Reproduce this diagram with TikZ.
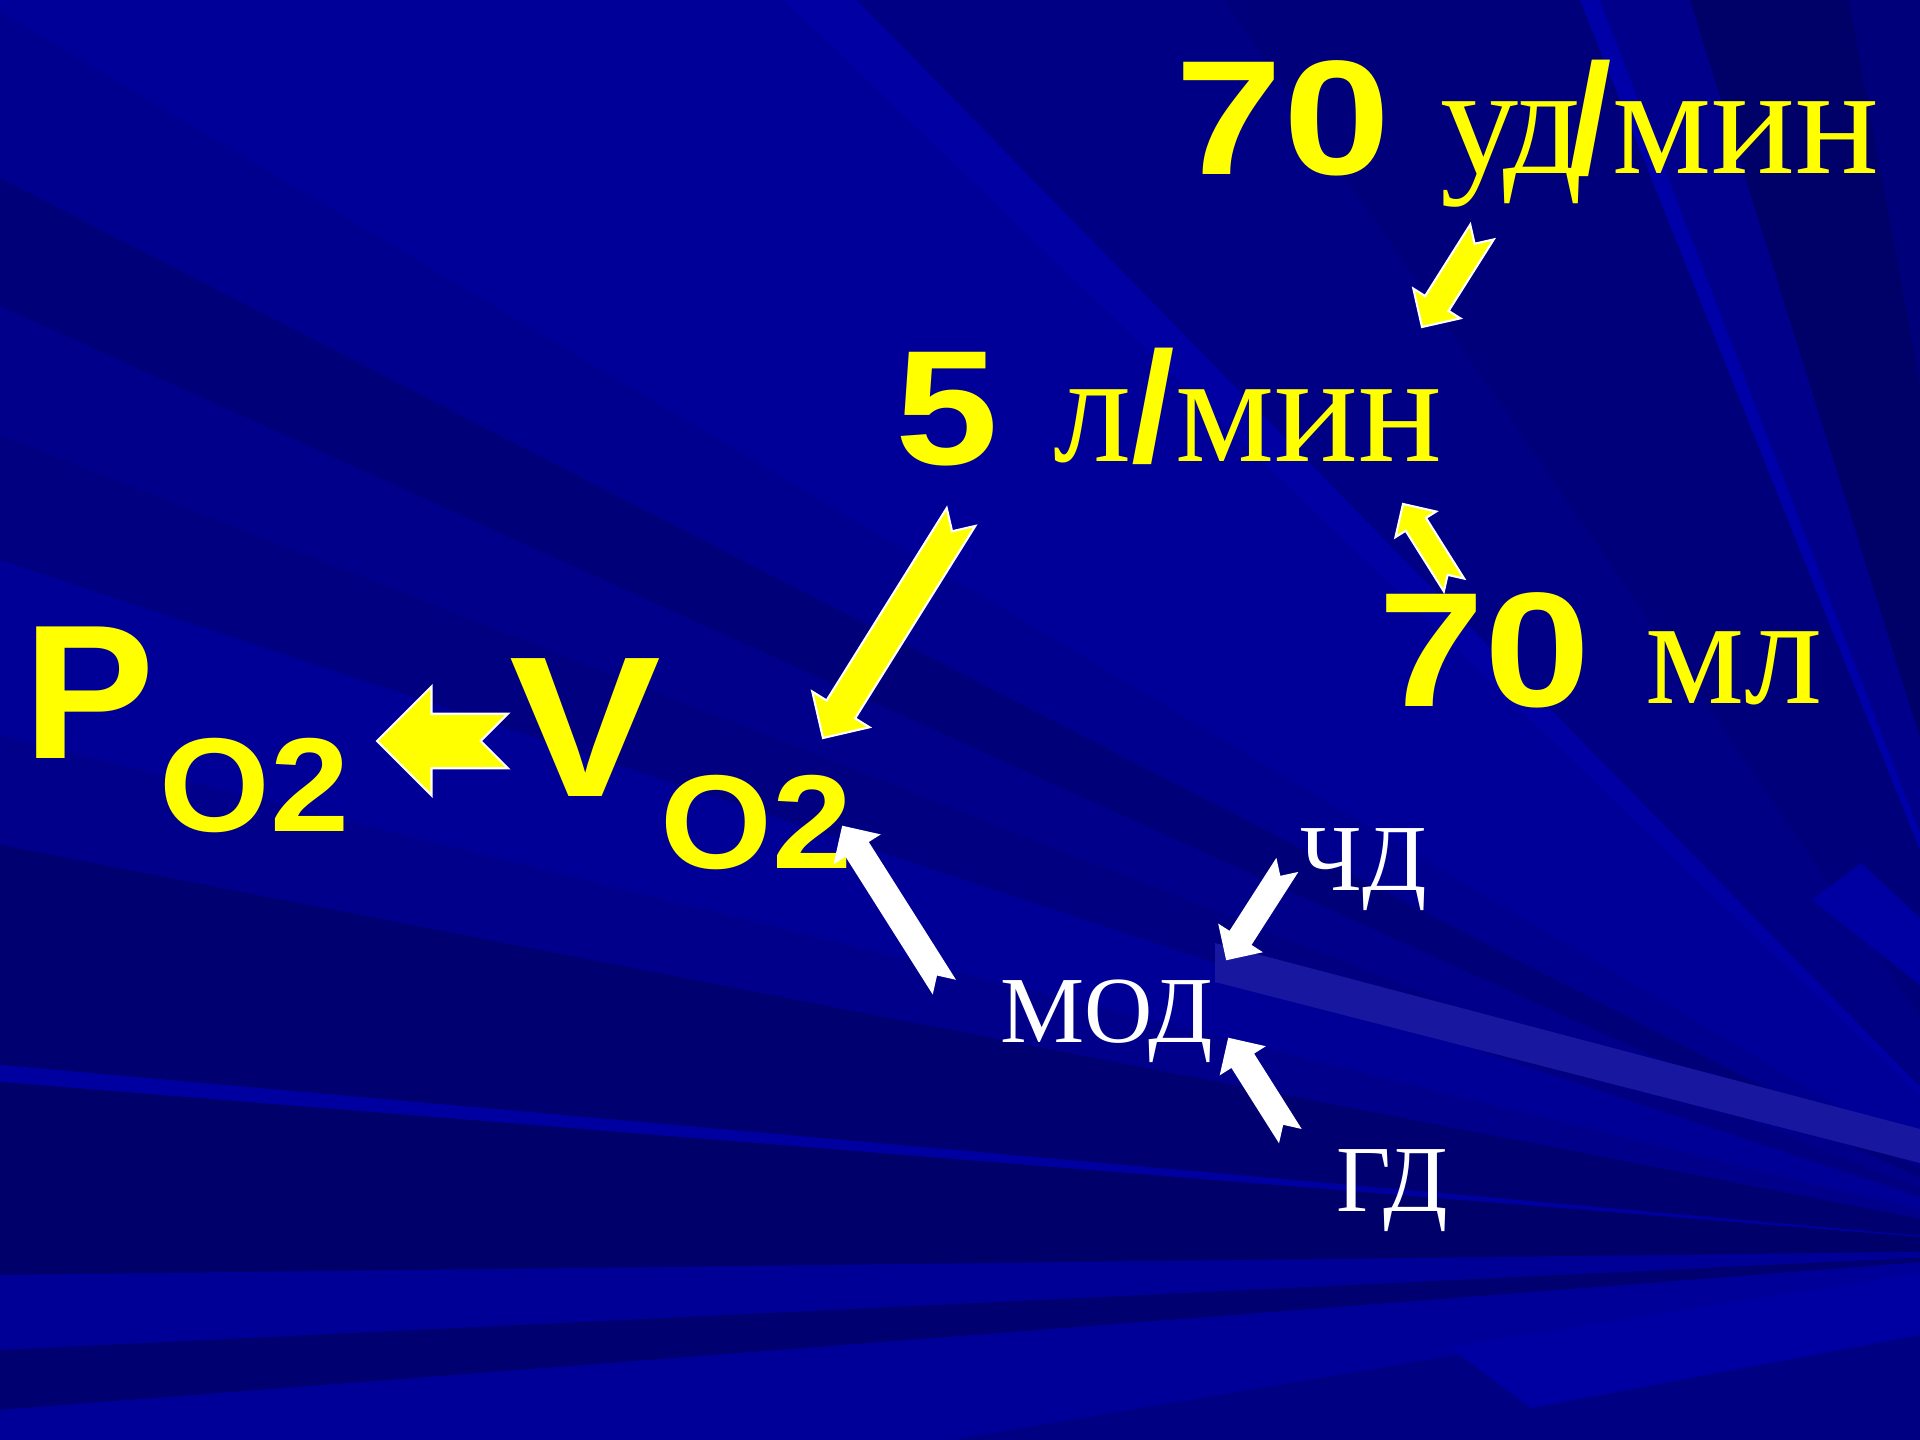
\documentclass[tikz,border=0pt]{standalone}
\usepackage{fontspec}
\setmainfont{Liberation Serif}
\newfontfamily\headfont{Liberation Sans}
\usepackage{tikz}
\usetikzlibrary{calc}
\definecolor{slideYellow}{HTML}{FFFF00}
\definecolor{slideGlow}{HTML}{17179F}
\definecolor{slideLight}{HTML}{0000A2}

% notched block arrow: fill, tail, tip, head half-width
\newcommand{\notcharrow}[4]{%
  \coordinate (hb) at ($(#3)!#4!(#2)$);
  \filldraw[fill=#1, draw=white, line width=0.6pt, line join=miter]
    ($(#2)!#4/2!90:(#3)$) -- ($(#2)!#4/2!(#3)$) -- ($(#2)!#4/2!-90:(#3)$)
    -- ($(hb)!#4/2!90:(#2)$) -- ($(hb)!#4!90:(#2)$) -- (#3)
    -- ($(hb)!#4!-90:(#2)$) -- ($(hb)!#4/2!-90:(#2)$) -- cycle;
}

\begin{document}
\begin{tikzpicture}[x=0.01cm, y=-0.01cm,
  num/.style={text=slideYellow, inner sep=0pt, anchor=base west,
             transform shape, xscale=1.17,
             font=\headfont\bfseries\fontsize{46.4}{50}\selectfont},
  unit/.style={text=slideYellow, inner sep=0pt, anchor=base west,
             font=\fontsize{44.5}{50}\selectfont},
  big/.style={num, font=\headfont\bfseries\fontsize{54.4}{60}\selectfont},
  sub/.style={num, font=\headfont\bfseries\fontsize{38}{42}\selectfont},
  resp/.style={text=white, inner sep=0pt, anchor=base west,
             font=\fontsize{26.9}{30}\selectfont},
]
\useasboundingbox (0,0) rectangle (1920,1440);

% Background rays
\begin{scope}
\clip (0,0) rectangle (1920,1440);
\fill[blue!51!black] (0,0) rectangle (1920,1440);
\coordinate (F) at (2080,1250);
\foreach \ya/\yb/\p in {-100/12/60, 12/178/56, 178/306/47, 306/435/54,
    435/560/50, 560/735/59, 735/845/54, 845/1065/44, 1065/1082/63,
    1082/1275/42, 1275/1350/59, 1350/1410/44, 1410/1600/60}
  \fill[blue!\p!black] (F) -- (0,\ya) -- (0,\yb) -- cycle;
\foreach \xa/\xb/\p in {0/784/60, 784/857/64, 857/1224/52, 1224/1580/48,
    1580/1600/66, 1600/1690/54, 1690/1849/41, 1849/2200/48}
  \fill[blue!\p!black] (F) -- (\xa,0) -- (\xb,0) -- cycle;
\fill[slideGlow] (1215,943) -- (1920,1129) -- (1920,1163) -- (1215,982) -- cycle;
\fill[slideLight] (1812,900) -- (1861,863) -- (1920,918) -- (1920,985) -- cycle;
\fill[slideLight] (1449,1347) -- (1920,1273) -- (1920,1335) -- (1531,1408) -- cycle;
\end{scope}

% Arrow hidden under the stroke volume
\coordinate (sv-tail) at (1454,585);
\coordinate (sv-tip) at (1403,504);
\notcharrow{slideYellow}{sv-tail}{sv-tip}{2.4mm}

% Yellow values
\node[num, xscale=1.01] (hr) at (1175,175) {70};
\node[unit] (hrunit) at (1440,174) {у\kern-0.1em д\kern-0.09em{\headfont\bfseries/}мин};
\node[num, xscale=0.97] (co) at (895,465) {5};
\node[unit] (counit) at (1053,462) {л{\headfont\bfseries/}мин};
\node[num] (sv) at (1378,707) {70};
\node[unit] (svunit) at (1645,704) {мл};
\node[big, xscale=0.88] (po) at (23,759) {P};
\node[sub, xscale=0.91] (posub) at (159,832) {O2};
\node[big, xscale=0.97, font=\headfont\bfseries\fontsize{57}{60}\selectfont] (vo) at (509,797) {V};
\node[sub, xscale=0.92] (vosub) at (660,869) {O2};

% White values
\node[resp] (chd) at (1300,891) {ЧД};
\node[resp] (mod) at (1000,1043) {МОД};
\node[resp] (gd) at (1336,1212) {ГД};

% Arrows
\coordinate (hr-tail) at (1482,232);
\coordinate (hr-tip) at (1422,327);
\notcharrow{slideYellow}{hr-tail}{hr-tip}{2.78mm}
\coordinate (co-tail) at (961,517);
\coordinate (co-tip) at (823,738);
\notcharrow{slideYellow}{co-tail}{co-tip}{3.37mm}
\coordinate (vo-tail) at (508,741);
\coordinate (vo-tip) at (377,741);
\notcharrow{slideYellow}{vo-tail}{vo-tip}{5.45mm}
\coordinate (mod-tail) at (943,985);
\coordinate (mod-tip) at (843,827);
\notcharrow{white}{mod-tail}{mod-tip}{2.54mm}
\coordinate (chd-tail) at (1286,867);
\coordinate (chd-tip) at (1227,959);
\notcharrow{white}{chd-tail}{chd-tip}{2.4mm}
\coordinate (gd-tail) at (1289,1134);
\coordinate (gd-tip) at (1229,1039);
\notcharrow{white}{gd-tail}{gd-tip}{2.47mm}

\end{tikzpicture}
\end{document}
